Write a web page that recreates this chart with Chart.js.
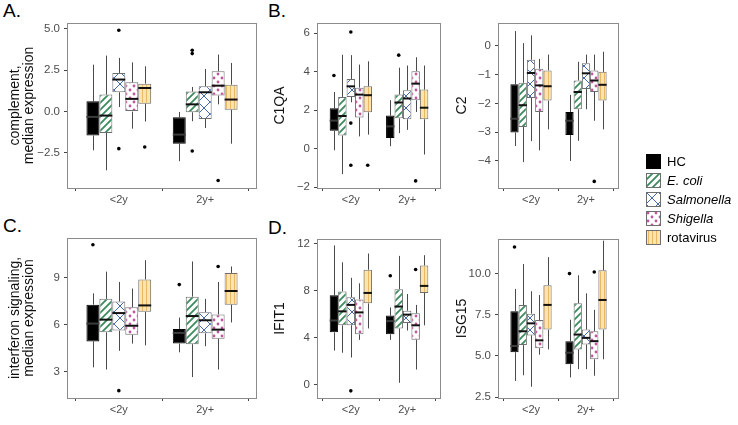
<!DOCTYPE html>
<html>
<head>
<meta charset="utf-8">
<script src="https://cdn.jsdelivr.net/npm/chart.js@4.4.1/dist/chart.umd.min.js"></script>
<style>
  body { margin: 0; background: #fff; }
  #wrap { position: relative; width: 738px; height: 425px; overflow: hidden; font-family: "Liberation Sans", Arial, sans-serif; }
  #wrap canvas.panel { position: absolute; }
  .tag { position: absolute; font-size: 19px; color: #000; }
  #legend { position: absolute; left: 646px; top: 152px; font-size: 13px; color: #000; }
  #legend .row { height: 19px; display: flex; align-items: center; }
  #legend canvas { margin-right: 6px; }
</style>
</head>
<body>
<div id="wrap">
  <div class="tag" style="left:3px;top:0px">A.</div>
  <div class="tag" style="left:268px;top:0px">B.</div>
  <div class="tag" style="left:3px;top:215px">C.</div>
  <div class="tag" style="left:268px;top:217px">D.</div>
  <canvas class="panel" id="pA" width="262" height="215" style="left:0px;top:0px"></canvas>
  <canvas class="panel" id="pB1" width="184" height="215" style="left:262px;top:0px"></canvas>
  <canvas class="panel" id="pB2" width="178" height="215" style="left:446px;top:0px"></canvas>
  <canvas class="panel" id="pC" width="262" height="215" style="left:0px;top:210px"></canvas>
  <canvas class="panel" id="pD1" width="184" height="215" style="left:262px;top:210px"></canvas>
  <canvas class="panel" id="pD2" width="178" height="215" style="left:446px;top:210px"></canvas>
  <div id="legend"></div>
</div>
<script>
// age groups and infection groups
const groups = ['<2y', '2y+'];
const series = ['HC', 'E. coli', 'Salmonella', 'Shigella', 'rotavirus'];
const italicSeries = [false, true, true, true, false];

// box stats per series: [lower whisker, q1, median, q3, upper whisker]
const complementYoung = [[-2.34, -1.45, -0.32, 0.62, 2.84], [-3.55, -1.29, -0.24, 1.03, 3.39], [0.28, 1.17, 1.94, 2.34, 3.25], [-1.03, 0.0, 0.77, 1.77, 2.98], [-0.6, 0.48, 1.43, 1.69, 2.74]];
const complementOlder = [[-3.0, -1.94, -1.39, -0.34, -0.02], [-0.58, -0.04, 0.44, 1.21, 1.49], [-0.99, -0.44, 1.17, 1.53, 2.58], [0.44, 0.97, 1.57, 2.44, 3.45], [-1.94, 0.12, 0.73, 1.63, 2.94]];
// outliers: [series index, group index, value]
const complementOutliers = [[2, 0, 4.92], [2, 0, -2.24], [4, 0, -2.14], [1, 1, 3.71], [1, 1, 3.51], [1, 1, -2.38], [3, 1, -4.17]];

const c1qaYoung = [[-0.09, 0.92, 1.45, 2.09, 2.94], [-1.33, 0.68, 1.69, 2.68, 4.87], [2.4, 2.68, 3.23, 3.61, 4.85], [0.63, 1.61, 2.8, 3.16, 4.36], [0.72, 1.88, 2.77, 3.23, 4.53]];
const c1qaOlder = [[0.12, 0.55, 1.15, 1.71, 2.51], [0.8, 1.57, 2.39, 2.8, 4.2], [0.97, 1.52, 2.6, 3.03, 4.31], [1.9, 2.51, 3.37, 4.02, 4.74], [-0.31, 1.52, 2.12, 3.06, 4.31]];
const c1qaOutliers = [[0, 0, 3.79], [2, 0, 6.05], [2, 0, 1.32], [2, 0, -0.87], [4, 0, -0.87], [1, 1, 4.85], [3, 1, -1.68]];

const c2Young = [[-3.48, -3.01, -2.53, -1.33, 0.52], [-4.04, -2.82, -2.06, -1.28, 0.1], [-3.31, -1.81, -0.94, -0.48, 0.37], [-3.63, -2.3, -1.37, -0.79, -0.45], [-2.9, -1.9, -1.4, -0.85, -0.3]];
const c2Older = [[-4.0, -3.1, -2.6, -2.3, -1.7], [-3.3, -2.2, -1.6, -1.2, -0.55], [-2.2, -1.5, -0.95, -0.6, -0.3], [-2.6, -1.6, -1.2, -0.85, -0.3], [-2.9, -1.9, -1.35, -0.9, -0.2]];
const c2Outliers = [[3, 1, -4.71]];

const interferonYoung = [[3.28, 4.94, 6.08, 7.29, 8.01], [3.14, 5.52, 6.33, 7.66, 9.4], [4.34, 5.63, 6.75, 7.49, 8.74], [4.8, 5.36, 5.94, 7.12, 8.32], [4.69, 6.83, 7.24, 8.9, 10.13]];
const interferonOlder = [[4.24, 4.8, 5.48, 5.73, 6.46], [2.66, 4.76, 6.56, 7.8, 10.05], [4.63, 5.46, 6.29, 6.81, 7.66], [3.14, 5.11, 5.69, 6.66, 8.74], [6.15, 7.29, 8.16, 9.32, 9.73]];
const interferonOutliers = [[0, 0, 11.12], [2, 0, 1.79], [0, 1, 8.57], [3, 1, 9.73]];

const ifit1Young = [[2.89, 4.44, 5.45, 7.6, 11.85], [2.7, 5.04, 6.23, 7.93, 10.41], [2.29, 5.04, 6.78, 7.44, 9.09], [3.8, 4.27, 6.14, 7.25, 8.62], [4.77, 6.91, 7.8, 9.78, 11.16]];
const ifit1Older = [[3.8, 4.27, 5.4, 5.87, 6.56], [0.14, 4.77, 6.64, 8.12, 10.96], [4.6, 5.23, 5.95, 6.28, 7.71], [1.27, 3.8, 5.04, 6.06, 6.78], [5.04, 7.8, 8.4, 10.14, 11.02]];
const ifit1Outliers = [[2, 0, -0.55], [0, 1, 9.26], [3, 1, 9.8]];

const isg15Young = [[3.48, 5.23, 5.61, 7.72, 9.07], [3.83, 5.66, 6.5, 8.09, 10.58], [3.13, 6.25, 6.98, 7.57, 8.93], [5.08, 5.47, 5.95, 7.18, 8.7], [5.4, 6.6, 8.1, 9.3, 11.0]];
const isg15Older = [[3.7, 4.5, 5.2, 5.9, 7.2], [4.2, 5.4, 6.3, 8.2, 9.9], [4.2, 5.7, 6.1, 6.6, 8.8], [3.8, 4.8, 5.9, 6.5, 7.8], [4.8, 6.6, 8.4, 10.2, 12.0]];
const isg15Outliers = [[0, 0, 11.61], [0, 1, 10.0], [3, 1, 10.1]];

// y tick values per panel
const complementTicks = [-2.5, 0, 2.5, 5];
const c1qaTicks = [-2, 0, 2, 4, 6];
const c2Ticks = [-4, -3, -2, -1, 0];
const interferonTicks = [3, 6, 9];
const ifit1Ticks = [0, 4, 8, 12];
const isg15Ticks = [2.5, 5, 7.5, 10];

// fill patterns
function makePattern(w, h, draw) {
  const c = document.createElement('canvas');
  c.width = w; c.height = h;
  const g = c.getContext('2d');
  draw(g, w, h);
  return g.createPattern(c, 'repeat');
}
const fills = [
  '#000000',
  makePattern(7, 7, function(g, w, h) {
    g.fillStyle = '#fff'; g.fillRect(0, 0, w, h);
    g.strokeStyle = '#3b8c5c'; g.lineWidth = 1.8;
    g.beginPath();
    g.moveTo(-1, h + 1); g.lineTo(w + 1, -1);
    g.moveTo(-2, 2); g.lineTo(2, -2);
    g.moveTo(w - 2, h + 2); g.lineTo(w + 2, h - 2);
    g.stroke();
  }),
  makePattern(12, 12, function(g, w, h) {
    g.fillStyle = '#fff'; g.fillRect(0, 0, w, h);
    g.strokeStyle = '#4467ad'; g.lineWidth = 1;
    g.beginPath();
    g.moveTo(0, 0); g.lineTo(w, h);
    g.moveTo(w, 0); g.lineTo(0, h);
    g.stroke();
  }),
  makePattern(8, 8, function(g, w, h) {
    g.fillStyle = '#fff'; g.fillRect(0, 0, w, h);
    g.fillStyle = '#c2559b';
    g.beginPath(); g.arc(2, 2, 1.4, 0, Math.PI * 2); g.fill();
    g.beginPath(); g.arc(6, 6, 1.4, 0, Math.PI * 2); g.fill();
  }),
  makePattern(4, 4, function(g, w, h) {
    g.fillStyle = '#fde3ad'; g.fillRect(0, 0, w, h);
    g.fillStyle = '#e8b865'; g.fillRect(2, 0, 1, h);
  })
];
const borders = ['#000000', '#6e6e6e', '#6e6e6e', '#6e6e6e', '#6e6e6e'];

// whiskers behind, medians + outliers + frame on top
const boxExtras = {
  id: 'boxExtras',
  beforeDatasetsDraw(chart) {
    const ctx = chart.ctx, y = chart.scales.y;
    ctx.save();
    ctx.strokeStyle = '#4a4a4a';
    ctx.lineWidth = 1;
    chart.data.datasets.forEach(function(ds, i) {
      chart.getDatasetMeta(i).data.forEach(function(bar, j) {
        const s = ds.stats[j];
        const x = Math.round(bar.x) + 0.5;
        ctx.beginPath();
        ctx.moveTo(x, y.getPixelForValue(s[0]));
        ctx.lineTo(x, y.getPixelForValue(s[1]));
        ctx.moveTo(x, y.getPixelForValue(s[3]));
        ctx.lineTo(x, y.getPixelForValue(s[4]));
        ctx.stroke();
      });
    });
    ctx.restore();
  },
  afterDatasetsDraw(chart) {
    const ctx = chart.ctx, y = chart.scales.y;
    ctx.save();
    chart.data.datasets.forEach(function(ds, i) {
      chart.getDatasetMeta(i).data.forEach(function(bar, j) {
        const s = ds.stats[j];
        const py = y.getPixelForValue(s[2]);
        ctx.strokeStyle = i === 0 ? '#3c3c3c' : '#111';
        ctx.lineWidth = 2;
        ctx.beginPath();
        ctx.moveTo(bar.x - bar.width / 2, py);
        ctx.lineTo(bar.x + bar.width / 2, py);
        ctx.stroke();
      });
    });
    ctx.fillStyle = '#000';
    chart.options.outlierList.forEach(function(o) {
      const bar = chart.getDatasetMeta(o[0]).data[o[1]];
      ctx.beginPath();
      ctx.arc(bar.x, y.getPixelForValue(o[2]), 1.8, 0, Math.PI * 2);
      ctx.fill();
    });
    const a = chart.chartArea;
    ctx.strokeStyle = '#8c8c8c';
    ctx.lineWidth = 1;
    ctx.strokeRect(Math.round(a.left) + 0.5, Math.round(a.top) + 0.5, Math.round(a.right - a.left) - 1, Math.round(a.bottom - a.top));
    ctx.restore();
  }
};

function fmt(decimals) {
  return function(v) {
    const t = Math.abs(v).toFixed(decimals);
    return v < 0 ? '\u2212' + t : t;
  };
}

function makePanel(id, young, older, outliers, yMin, yMax, yTicks, decimals, title, yWidth, titlePad, top) {
  const datasets = series.map(function(name, i) {
    return {
      label: name,
      stats: [young[i], older[i]],
      data: [young[i], older[i]].map(function(s, j) { return {x: j + 1, y: [s[1], s[3]]}; }),
      backgroundColor: fills[i],
      borderColor: borders[i],
      borderWidth: 1,
      borderSkipped: false,
      inflateAmount: 0,
      categoryPercentage: 0.75,
      barPercentage: 1.0
    };
  });
  const canvas = document.getElementById(id);
  return new Chart(canvas.getContext('2d'), {
    type: 'bar',
    data: { datasets: datasets },
    plugins: [boxExtras],
    options: {
      responsive: false,
      animation: false,
      devicePixelRatio: 1,
      outlierList: outliers,
      layout: { padding: { top: top, right: 5, left: 0, bottom: 0 } },
      plugins: { legend: { display: false }, tooltip: { enabled: false } },
      scales: {
        x: {
          type: 'linear', min: 0.4, max: 2.6, offset: false,
          afterBuildTicks: function(s) { s.ticks = [{value: 1}, {value: 2}]; },
          afterFit: function(s) { s.height = 27; s.paddingLeft = 0; s.paddingRight = 0; },
          ticks: { color: '#4d4d4d', font: { size: 11, family: 'Liberation Sans' }, padding: 2, maxRotation: 0,
            callback: function(v) { return groups[v - 1]; } },
          grid: { drawOnChartArea: false, drawTicks: true, tickLength: 3, color: '#444' },
          border: { display: false }
        },
        y: {
          min: yMin, max: yMax,
          afterBuildTicks: function(s) { s.ticks = yTicks.map(function(v) { return {value: v}; }); },
          afterFit: function(s) { s.width = yWidth; s.paddingTop = 0; s.paddingBottom = 0; },
          ticks: { color: '#4d4d4d', font: { size: 11.5, family: 'Liberation Sans' }, padding: 4, callback: fmt(decimals) },
          grid: { drawOnChartArea: false, drawTicks: true, tickLength: 3, color: '#444' },
          border: { display: false },
          title: { display: true, text: title, color: '#111', padding: { top: titlePad, bottom: 0 },
            font: { size: 14, family: 'Liberation Sans', lineHeight: 1.0 } }
        }
      }
    }
  });
}

makePanel('pA', complementYoung, complementOlder, complementOutliers, -4.62, 5.36, complementTicks, 1,
  ['complement,', 'median expression'], 67, 8, 23);
makePanel('pB1', c1qaYoung, c1qaOlder, c1qaOutliers, -2.05, 6.52, c1qaTicks, 0, 'C1QA', 55, 11, 23);
makePanel('pB2', c2Young, c2Older, c2Outliers, -4.94, 0.8, c2Ticks, 0, 'C2', 52, 9, 23);
makePanel('pC', interferonYoung, interferonOlder, interferonOutliers, 1.32, 11.55, interferonTicks, 0,
  ['interferon signaling,', 'median expression'], 67, 8, 28);
makePanel('pD1', ifit1Young, ifit1Older, ifit1Outliers, -1.16, 12.4, ifit1Ticks, 0, 'IFIT1', 55, 11, 29);
makePanel('pD2', isg15Young, isg15Older, isg15Outliers, 2.45, 12.1, isg15Ticks, 1, 'ISG15', 52, 9, 29);

// legend keys
const legend = document.getElementById('legend');
series.forEach(function(name, i) {
  const row = document.createElement('div');
  row.className = 'row';
  const key = document.createElement('canvas');
  key.width = 15; key.height = 15;
  const g = key.getContext('2d');
  g.fillStyle = fills[i];
  g.fillRect(0, 0, 15, 15);
  g.strokeStyle = borders[i];
  g.lineWidth = 1;
  g.strokeRect(0.5, 0.5, 14, 14);
  row.appendChild(key);
  const label = document.createElement('span');
  label.textContent = name;
  if (italicSeries[i]) label.style.fontStyle = 'italic';
  row.appendChild(label);
  legend.appendChild(row);
});
</script>
</body>
</html>
